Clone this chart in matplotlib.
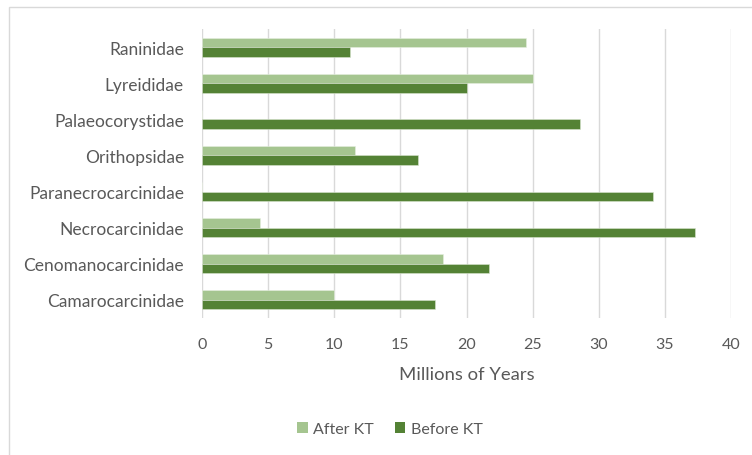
import matplotlib
matplotlib.use("Agg")
import matplotlib.pyplot as plt
from matplotlib.patches import Rectangle, Patch
import numpy as np

families = ["Camarocarcinidae", "Cenomanocarcinidae", "Necrocarcinidae",
            "Paranecrocarcinidae", "Orithopsidae", "Palaeocorystidae",
            "Lyreididae", "Raninidae"]
after_kt = [10.0, 18.2, 4.4, 0, 11.6, 0, 25.0, 24.5]
before_kt = [17.6, 21.7, 37.3, 34.1, 16.3, 28.6, 20.0, 11.2]
x_ticks = [0, 5, 10, 15, 20, 25, 30, 35, 40]

plt.rcParams["font.family"] = ["Lato", "DejaVu Sans"]
text_col = "#595959"
light = "#A5C590"
dark = "#548235"

W, H = 752, 456
fig = plt.figure(figsize=(W / 100, H / 100), dpi=100)

# chart frame (partially cropped on the right and bottom)
fig.patches.append(Rectangle((8.5 / W, -0.1), 1.2, 1.1 - 7.5 / H,
                             transform=fig.transFigure, fill=False,
                             edgecolor="#d9d9d9", linewidth=1.0))

left, right, top, bottom = 202, 731, 30.3, 318.7
ax = fig.add_axes([left / W, 1 - bottom / H, (right - left) / W, (bottom - top) / H])

y = np.arange(len(families))
h = 0.262
ax.barh(y + h / 2, after_kt, height=h, color=light, edgecolor="#e6efe0",
        linewidth=0.4, label="After KT", zorder=3)
ax.barh(y - h / 2, before_kt, height=h, color=dark, edgecolor="#d9e4d0",
        linewidth=0.4, label="Before KT", zorder=3)

ax.set_xlim(0, 40)
ax.set_ylim(-0.5, len(families) - 0.5)
ax.set_xticks(x_ticks)
ax.set_yticks(y)
ax.set_yticklabels(families)
ax.tick_params(axis="both", length=0, colors=text_col)
ax.tick_params(axis="x", pad=14, labelsize=11.5)
ax.tick_params(axis="y", pad=13, labelsize=12.5)
ax.grid(axis="x", color="#d9d9d9", linewidth=1.0, zorder=0)
for s in ax.spines.values():
    s.set_visible(False)

ax.set_xlabel("Millions of Years", color=text_col, fontsize=13.3, labelpad=11)

handles = [Patch(facecolor=light, label="After KT"),
           Patch(facecolor=dark, label="Before KT")]
fig.legend(handles=handles, loc="center", bbox_to_anchor=(390 / W, 1 - 430 / H),
           ncol=2, frameon=False, fontsize=11.5, handlelength=0.65, handleheight=0.65,
           handletextpad=0.35, columnspacing=1.3, labelcolor=text_col)

fig.savefig("out.png", dpi=100, facecolor="white")
